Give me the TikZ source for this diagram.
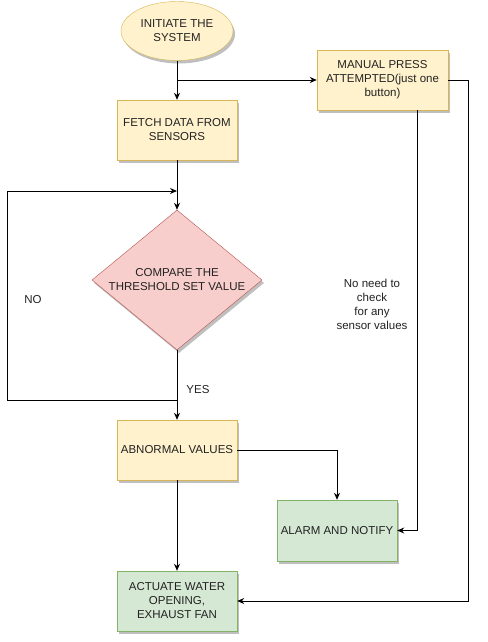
\documentclass[tikz,border=0pt]{standalone}
\usepackage{fontspec}
\setmainfont{Liberation Sans}
\usetikzlibrary{arrows.meta,shapes.geometric,shadows}
\definecolor{yfill}{HTML}{FFF2CC}
\definecolor{ydraw}{HTML}{D6B656}
\definecolor{rfill}{HTML}{F8CECC}
\definecolor{rdraw}{HTML}{B85450}
\definecolor{gfill}{HTML}{D5E8D4}
\definecolor{gdraw}{HTML}{82B366}
\definecolor{txt}{HTML}{222222}
\begin{document}
\begin{tikzpicture}[x=1pt,y=-1pt,
  font=\fontsize{11.5}{14}\selectfont, text=txt,
  shad/.style={drop shadow={shadow xshift=2pt,shadow yshift=-3pt,opacity=0.25,fill=black}},
  ybox/.style={rectangle,draw=ydraw,fill=yfill,shad,minimum width=120pt,minimum height=60pt,align=center,inner sep=1pt},
  gbox/.style={rectangle,draw=gdraw,fill=gfill,shad,minimum width=120pt,minimum height=60pt,align=center,inner sep=1pt},
  arr/.style={draw=black,line width=1pt,-{Stealth[length=7pt,width=6pt]}},
  ln/.style={draw=black,line width=1pt}]
\useasboundingbox (0,0) rectangle (487,642);
\fill[white] (0,0) rectangle (487,642);

\node[ellipse,draw=ydraw,fill=yfill,shad,minimum width=112pt,minimum height=59pt,inner sep=0pt,align=center] (init) at (177,31) {INITIATE THE\\SYSTEM};
\node[ybox] (fetch) at (177,130) {FETCH DATA FROM\\SENSORS};
\node[ybox,minimum width=131pt] (manual) at (382.5,80) {MANUAL PRESS\\ATTEMPTED(just one\\button)};
\node[diamond,draw=rdraw,fill=rfill,shad,minimum width=170pt,minimum height=140pt,inner sep=0pt] (cmp) at (177,280) {};
\node[align=center,inner sep=0pt] (cmptext) at (cmp.center) {COMPARE THE\\THRESHOLD SET VALUE};
\node[ybox] (abn) at (177,450) {ABNORMAL VALUES};
\node[gbox,minimum height=61pt] (alarm) at (337,530.5) {ALARM AND NOTIFY};
\node[gbox] (act) at (177,601) {ACTUATE WATER\\OPENING,\\EXHAUST FAN};

\node[align=center,inner sep=0pt] (noneed) at (372,304) {No need to\\check\\for any\\sensor values};
\node[inner sep=0pt] (no) at (33,300) {NO};
\node[inner sep=0pt] (yes) at (198,390) {YES};

\coordinate (br) at (177,80);
\coordinate (loopA) at (177,400);
\coordinate (loopB) at (7,400);
\coordinate (loopC) at (177,191);
\coordinate (rr) at (468,80);
\coordinate (ms) at (417,110);

\draw[arr] (init.south) -- (fetch.north);
\draw[arr] (br) -- (manual.west);
\draw[arr] (fetch.south) -- (cmp.north);
\draw[arr] (cmp.south) -- (abn.north);
\draw[arr] (loopA) -- (loopB) |- (loopC);
\draw[arr] (manual.east) -- (rr) |- (act.east);
\draw[arr] (ms) |- (alarm.east);
\draw[arr] (abn.east) -| (alarm.north);
\draw[arr] (abn.south) -- (act.north);
\end{tikzpicture}
\end{document}
